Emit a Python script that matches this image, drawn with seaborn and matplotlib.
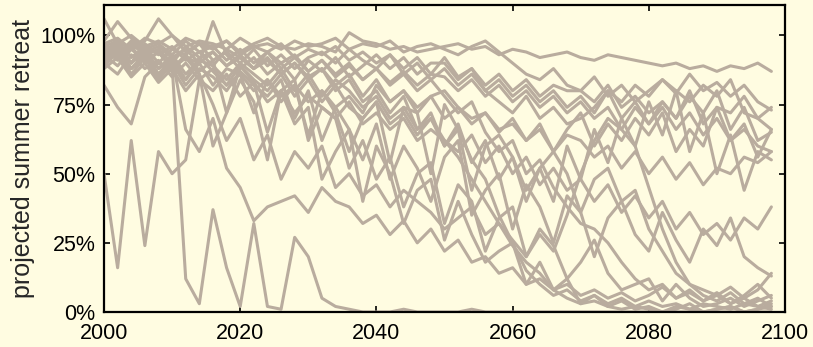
import numpy as np
import pandas as pd
import matplotlib
matplotlib.use("Agg")
import matplotlib.pyplot as plt
import seaborn as sns

years = list(range(2000, 2100, 2))

s01 = [106, 97, 100, 96, 98, 95, 99, 97, 96, 98, 94, 97, 99, 96, 95, 97, 96, 94, 101, 98, 97, 95, 96, 94, 95, 96, 97, 95, 96, 93, 95, 94, 92, 93, 94, 92, 91, 93, 92, 91, 90, 89, 90, 88, 89, 87, 89, 88, 90, 87]
s02 = [96, 98, 95, 99, 97, 100, 96, 98, 97, 95, 99, 96, 97, 95, 98, 96, 97, 99, 95, 97, 96, 98, 94, 96, 97, 95, 93, 96, 98, 94, 90, 86, 84, 88, 82, 80, 85, 78, 82, 76, 80, 84, 79, 86, 80, 83, 78, 82, 76, 73]
s03 = [92, 95, 90, 97, 93, 96, 91, 94, 89, 95, 92, 88, 94, 90, 93, 87, 91, 85, 89, 84, 88, 82, 86, 80, 84, 78, 72, 76, 65, 58, 62, 50, 55, 45, 38, 32, 30, 25, 18, 12, 8, 10, 5, 7, 4, 6, 3, 5, 2, 4]
s04 = [50, 16, 62, 24, 58, 50, 55, 84, 80, 86, 78, 83, 76, 80, 72, 78, 74, 70, 76, 68, 72, 66, 70, 62, 66, 62, 58, 64, 54, 60, 50, 56, 46, 52, 44, 48, 40, 46, 36, 42, 34, 40, 30, 36, 28, 32, 26, 34, 30, 38]
s05 = [90, 94, 88, 92, 85, 89, 12, 3, 37, 16, 2, 32, 2, 1, 27, 20, 5, 2, 1, 0, 0, 0, 1, 0, 0, 0, 0, 1, 0, 0, 0, 0, 0, 0, 0, 0, 0, 0, 0, 0, 0, 0, 0, 0, 0, 0, 0, 0, 0, 0]
s06 = [82, 74, 68, 85, 90, 88, 92, 86, 75, 62, 70, 55, 64, 48, 58, 52, 60, 45, 50, 42, 46, 38, 44, 40, 36, 30, 34, 38, 28, 32, 24, 18, 14, 8, 5, 3, 4, 2, 1, 2, 1, 0, 2, 1, 0, 1, 2, 0, 1, 3]
s07 = [93, 96, 90, 94, 88, 92, 66, 58, 70, 52, 45, 33, 38, 40, 42, 36, 45, 40, 38, 32, 35, 28, 33, 25, 30, 22, 26, 18, 20, 14, 16, 10, 12, 8, 10, 6, 8, 5, 7, 4, 6, 9, 5, 8, 4, 7, 3, 6, 10, 5]
s08 = [97, 93, 98, 94, 96, 92, 95, 90, 94, 89, 92, 88, 91, 86, 90, 85, 88, 82, 86, 78, 84, 76, 80, 72, 78, 70, 74, 68, 72, 65, 70, 62, 68, 58, 66, 72, 60, 68, 62, 70, 64, 72, 58, 66, 60, 74, 62, 68, 56, 66]
s09 = [94, 98, 92, 96, 90, 95, 93, 97, 91, 94, 90, 95, 89, 93, 88, 92, 94, 90, 95, 91, 88, 93, 86, 90, 84, 88, 82, 86, 80, 84, 78, 82, 76, 80, 74, 78, 72, 80, 70, 76, 68, 74, 66, 72, 64, 70, 62, 66, 60, 58]
s10 = [91, 95, 88, 93, 86, 90, 84, 92, 87, 82, 89, 84, 80, 86, 78, 84, 76, 82, 74, 70, 76, 68, 72, 64, 70, 60, 66, 55, 48, 35, 25, 15, 10, 6, 8, 4, 6, 3, 5, 2, 4, 2, 3, 1, 3, 2, 1, 3, 2, 1]
s11 = [96, 92, 97, 93, 95, 90, 96, 92, 94, 89, 93, 88, 92, 86, 90, 84, 88, 80, 84, 76, 80, 72, 78, 66, 72, 60, 68, 54, 62, 48, 56, 44, 52, 40, 60, 48, 66, 54, 70, 60, 76, 64, 80, 58, 72, 50, 64, 44, 58, 55]
s12 = [89, 94, 86, 92, 84, 90, 82, 88, 85, 80, 87, 82, 78, 84, 70, 80, 62, 74, 66, 55, 68, 48, 60, 52, 40, 56, 62, 35, 44, 50, 30, 46, 38, 25, 42, 36, 20, 34, 40, 28, 22, 36, 26, 18, 30, 24, 34, 20, 16, 13]
s13 = [93, 97, 90, 95, 88, 93, 86, 91, 89, 84, 90, 86, 82, 88, 80, 86, 78, 84, 80, 74, 78, 70, 74, 66, 70, 62, 56, 48, 40, 32, 26, 20, 28, 22, 35, 50, 62, 70, 66, 74, 68, 76, 70, 78, 72, 80, 66, 74, 62, 65]
s14 = [88, 92, 85, 90, 83, 88, 80, 86, 60, 72, 84, 76, 55, 80, 68, 74, 48, 58, 66, 40, 60, 50, 32, 44, 48, 26, 40, 28, 18, 22, 25, 10, 18, 8, 12, 3, 6, 2, 4, 1, 2, 0, 1, 3, 0, 1, 2, 0, 1, 2]
s15 = [98, 105, 99, 95, 97, 93, 98, 94, 96, 91, 95, 90, 94, 88, 92, 87, 91, 86, 90, 84, 88, 83, 87, 82, 86, 85, 80, 84, 78, 82, 76, 80, 74, 78, 72, 76, 70, 74, 66, 60, 45, 30, 18, 10, 6, 4, 7, 3, 5, 2]
s16 = [90, 86, 93, 88, 91, 85, 90, 84, 88, 82, 86, 72, 84, 76, 82, 64, 80, 72, 58, 70, 76, 54, 74, 72, 50, 75, 66, 44, 60, 64, 56, 40, 52, 58, 50, 36, 48, 52, 40, 44, 30, 22, 14, 10, 8, 6, 9, 5, 8, 14]
s17 = [97, 99, 95, 98, 106, 100, 94, 97, 95, 98, 93, 96, 94, 97, 92, 95, 93, 96, 91, 94, 90, 93, 88, 92, 86, 92, 85, 88, 82, 86, 80, 84, 78, 82, 80, 80, 76, 82, 74, 78, 72, 76, 70, 80, 68, 74, 72, 78, 70, 74]
s18 = [95, 91, 96, 90, 94, 88, 93, 87, 91, 72, 89, 83, 65, 80, 84, 62, 74, 70, 52, 62, 48, 56, 38, 50, 54, 32, 46, 40, 22, 34, 38, 20, 30, 24, 12, 18, 26, 14, 8, 10, 12, 4, 10, 5, 2, 3, 5, 2, 4, 6]
s19 = [90, 95, 88, 93, 86, 92, 84, 90, 82, 88, 86, 80, 84, 78, 82, 76, 80, 74, 78, 72, 82, 76, 80, 74, 78, 80, 74, 70, 72, 66, 68, 62, 66, 58, 64, 62, 56, 60, 52, 58, 50, 56, 48, 54, 46, 52, 50, 56, 54, 58]
s20 = [93, 89, 95, 91, 94, 88, 92, 90, 105, 93, 88, 92, 86, 90, 84, 91, 87, 92, 85, 89, 93, 88, 92, 86, 90, 90, 84, 88, 80, 76, 72, 78, 70, 74, 68, 70, 74, 80, 76, 82, 78, 84, 80, 76, 82, 78, 84, 72, 70, 66]

runs = {"s01": s01, "s02": s02, "s03": s03, "s04": s04, "s05": s05,
        "s06": s06, "s07": s07, "s08": s08, "s09": s09, "s10": s10,
        "s11": s11, "s12": s12, "s13": s13, "s14": s14, "s15": s15,
        "s16": s16, "s17": s17, "s18": s18, "s19": s19, "s20": s20}

ytick_vals = [0, 25, 50, 75, 100]
ytick_labels = ["0%", "25%", "50%", "75%", "100%"]
xtick_vals = [2000, 2020, 2040, 2060, 2080, 2100]

rows = []
for name, vals in runs.items():
    for y, v in zip(years, vals):
        rows.append({"run": name, "year": y, "value": v})
df = pd.DataFrame(rows)

bg = "#FFFCE1"
line_col = "#B9AC9E"

sns.set_style("ticks")
plt.rcParams["font.family"] = ["Liberation Sans", "DejaVu Sans"]

fig = plt.figure(figsize=(8.13, 3.47), dpi=100, facecolor=bg)
ax = fig.add_axes([104 / 813, 1 - 312 / 347, (785 - 104) / 813, (312 - 5) / 347])
ax.set_facecolor(bg)

sns.lineplot(data=df, x="year", y="value", units="run", estimator=None,
             color=line_col, linewidth=2.2, ax=ax, legend=False)

ax.set_xlim(2000, 2100)
ax.set_ylim(0, 111)
ax.set_xticks(xtick_vals)
ax.set_yticks(ytick_vals)
ax.set_yticklabels(ytick_labels)
ax.set_xlabel("")
ax.set_ylabel("projected summer retreat", fontsize=18, labelpad=4)
ax.tick_params(direction="in", length=4, width=1.2, labelsize=15.5,
               top=True, right=True, pad=6, colors="black")
ax.tick_params(axis="x", pad=8)
for sp in ax.spines.values():
    sp.set_visible(True)
    sp.set_linewidth(1.6)
    sp.set_color("black")

fig.savefig("out.png", dpi=100, facecolor=bg)
